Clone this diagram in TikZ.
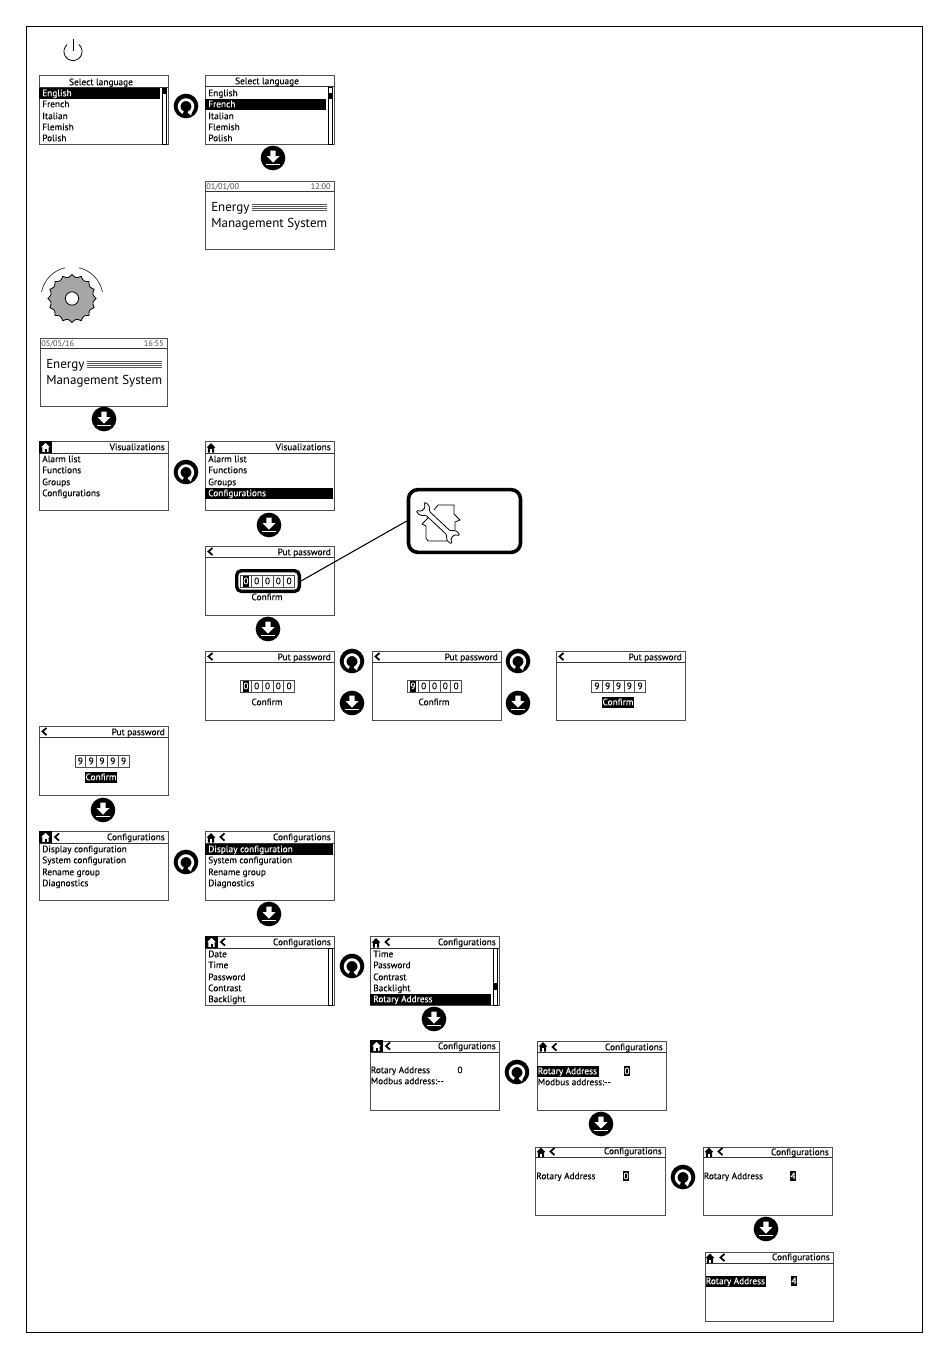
\documentclass[tikz,border=0pt]{standalone}
\usepackage{fontspec}
\setmainfont{PT Sans}
\newfontfamily\lcdb[FakeBold=0.35]{PT Sans}
\newcommand{\fsmall}{\lcdb\fontsize{7}{8}\selectfont}
\newcommand{\fthin}{\rmfamily\fontsize{6.2}{7}\selectfont}
\newcommand{\fbig}{\rmfamily\fontsize{9.75}{11}\selectfont}
\newcount\tcnt
\newcommand{\adv}{\global\advance\tcnt by 1\relax}
\tikzset{
  x=0.75pt,y=-0.75pt,
  framebox/.style={draw=black,line width=0.75pt},
  scrbox/.style={draw=black!70,line width=0.6pt,inner sep=0pt,anchor=north west},
  hline/.style={draw=black!80,line width=0.6pt},
  txt/.style={inner sep=0pt,font=\fsmall,text=black},
  inv/.style={txt,text=white},
  disc/.style={circle,fill=black,minimum size=18.5pt,inner sep=0pt},
  ring/.style={rectangle,rounded corners=3.5pt,draw=black,line width=2.5pt,inner sep=0pt,fill=none},
  callout/.style={rectangle,rounded corners=7pt,draw=black,line width=2.7pt,inner sep=0pt,fill=white,minimum width=84pt,minimum height=47pt},
  leader/.style={draw=black,line width=0.8pt},
}
% name x y w h
\newcommand{\scrn}[5]{\node[scrbox,minimum width=#4*0.75pt,minimum height=#5*0.75pt] (#1) at (#2,#3) {};}
% x1 x2 y
\newcommand{\hdr}[3]{\draw[hline] (#1,#3) -- (#2,#3);}
% left text: x y text
\newcommand{\tleft}[3]{\adv\node[txt,anchor=base west] (t\the\tcnt) at (#1,#2+3.2) {#3};}
\newcommand{\tleftw}[3]{\adv\node[inv,anchor=base west] (t\the\tcnt) at (#1,#2+3.2) {#3};}
\newcommand{\tright}[3]{\adv\node[txt,anchor=base east] (t\the\tcnt) at (#1,#2+3.2) {#3};}
\newcommand{\tmid}[3]{\adv\node[txt,anchor=base] (t\the\tcnt) at (#1,#2+3.2) {#3};}
\newcommand{\tmidw}[3]{\adv\node[inv,anchor=base] (t\the\tcnt) at (#1,#2+3.2) {#3};}
% highlight bar x1 y1 x2 y2
\newcommand{\hlbar}[4]{\fill[black] (#1,#2) rectangle (#3,#4);}
% scrollbar x ytop ybot knobtop knobbot
\newcommand{\sbar}[5]{\draw[black,line width=0.5pt] (#1,#2) rectangle (#1+4,#3); \fill[black] (#1,#4) rectangle (#1+4,#5);}
% rotate icon
\newcommand{\roticon}[3]{\node[disc] (#1) at (#2,#3) {};
  \begin{scope}[shift={(#2,#3)}]
    \draw[white,line width=2pt] plot[domain=-65:245,samples=40] ({6.8*cos(\x)},{-6.8*sin(\x)+0.5});
    \fill[black] (-2,0) -- (2,0) -- (1.6,8) -- (-1.6,8) -- cycle;
    \fill[white] (1.5,6.5) -- (6.5,4) -- (5,9.5) -- cycle;
  \end{scope}}
% down icon
\newcommand{\dwnicon}[3]{\node[disc] (#1) at (#2,#3) {};
  \begin{scope}[shift={(#2,#3)}]
    \fill[white] (-2.6,-7.5) -- (2.6,-7.5) -- (2.6,-2) -- (6.5,-2) -- (0,4.5) -- (-6.5,-2) -- (-2.6,-2) -- cycle;
    \fill[white] (-7,5.8) rectangle (7,7.4);
  \end{scope}}
% home icons x y (centre of icon)
\newcommand{\homeb}[2]{\begin{scope}[shift={(#1,#2)}]
    \fill[black] (0,-5) -- (-4.4,-0.5) -- (-3.2,-0.5) -- (-3.2,4.5) -- (3.2,4.5) -- (3.2,-0.5) -- (4.4,-0.5) -- cycle;
    \fill[white] (-1,1.2) rectangle (1,4.5);
  \end{scope}}
\newcommand{\homew}[2]{\fill[black] (#1-6.5,#2-6) rectangle (#1+6.5,#2+6);
  \begin{scope}[shift={(#1,#2)}]
    \fill[white] (0,-4) -- (-4.4,0.2) -- (-3.2,0.2) -- (-3.2,4.8) -- (3.2,4.8) -- (3.2,0.2) -- (4.4,0.2) -- cycle;
    \fill[black] (-1,1.5) rectangle (1,4.8);
  \end{scope}}
\newcommand{\chev}[2]{\draw[black,line width=1.3pt] (#1+2.5,#2-3.6) -- (#1-1.5,#2) -- (#1+2.5,#2+3.6);}
% digit row: x y d1 d2 d3 d4 d5
\newcommand{\digs}[7]{\draw[black!70,line width=0.5pt] (#1,#2) rectangle (#1+54,#2+12);
  \foreach \kk in {1,2,3,4}{\draw[black!70,line width=0.5pt] (#1+\kk*10.8,#2) -- (#1+\kk*10.8,#2+12);}
  \tmid{#1+5.4}{#2+6}{#3}\tmid{#1+16.2}{#2+6}{#4}\tmid{#1+27}{#2+6}{#5}\tmid{#1+37.8}{#2+6}{#6}\tmid{#1+48.6}{#2+6}{#7}}
\newcommand{\digsb}[7]{\draw[black!70,line width=0.5pt] (#1,#2) rectangle (#1+54,#2+12);
  \foreach \kk in {1,2,3,4}{\draw[black!70,line width=0.5pt] (#1+\kk*10.8,#2) -- (#1+\kk*10.8,#2+12);}
  \fill[black] (#1+2.3,#2+0.5) rectangle (#1+8.5,#2+11.5);
  \tmidw{#1+5.4}{#2+6}{#3}\tmid{#1+16.2}{#2+6}{#4}\tmid{#1+27}{#2+6}{#5}\tmid{#1+37.8}{#2+6}{#6}\tmid{#1+48.6}{#2+6}{#7}}
% energy home screen: name x y w date time
\newcommand{\ems}[6]{\scrn{#1}{#2}{#3}{#4}{68}
  \hdr{#2}{#2+#4}{#3+10.5}
  \adv\node[txt,font=\fthin,text=black!70,anchor=base west] (t\the\tcnt) at (#2+1,#3+8.2) {#5};
  \adv\node[txt,font=\fthin,text=black!70,anchor=base east] (t\the\tcnt) at (#2+#4-3,#3+8.2) {#6};
  \adv\node[txt,font=\fbig,anchor=base west] (t\the\tcnt) at (#2+6,#3+30.5) {Energy};
  \adv\node[txt,font=\fbig,anchor=base west] (t\the\tcnt) at (#2+6,#3+46) {Management System};
  \foreach \q in {23,25.2,27.4,29.6}{\draw[black!65,line width=0.4pt] (#2+46.5,#3+\q) -- (#2+122,#3+\q);}}
\begin{document}
\begin{tikzpicture}
\useasboundingbox (0,0) rectangle (950,1360);
\fill[white] (0,0) rectangle (950,1360);
\draw[framebox] (26,26) rectangle (922,1332);

% power symbol
\draw[black,line width=0.6pt] plot[domain=-230:50,samples=40] ({73+9*cos(\x)},{51.5-9*sin(\x)});
\draw[black,line width=0.6pt] (73,39) -- (73,51);

% Language screens
\scrn{la}{39}{75}{129}{69}\hdr{39}{168}{87}
\tmid{101}{82}{Select language}
\hlbar{39}{88}{160}{99}
\tleftw{42}{93}{English}\tleft{42}{104}{French}\tleft{42}{116}{Italian}\tleft{42}{127}{Flemish}\tleft{42}{138}{Polish}
\sbar{162}{88}{144}{88}{93.5}
\roticon{ra}{186}{106}

\scrn{lb}{205}{75}{129}{69}\hdr{205}{334}{86.5}
\tmid{267}{81}{Select language}
\hlbar{205}{99}{326}{110}
\tleft{208}{93}{English}\tleftw{208}{104}{French}\tleft{208}{116}{Italian}\tleft{208}{127}{Flemish}\tleft{208}{138}{Polish}
\sbar{328}{87}{144}{93}{99}
\dwnicon{da}{273}{158}

\ems{ea}{205}{181}{129}{01/01/00}{12:00}

% knob
\fill[black!35] plot[domain=0:360,samples=257] ({72+24*cos(\x)-2.6*abs(sin(8*\x))*cos(\x)},{298.5-24*sin(\x)+2.6*abs(sin(8*\x))*sin(\x)}) -- cycle;
\draw[black,line width=0.6pt] plot[domain=0:360,samples=257] ({72+24*cos(\x)-2.6*abs(sin(8*\x))*cos(\x)},{298.5-24*sin(\x)+2.6*abs(sin(8*\x))*sin(\x)}) -- cycle;
\draw[black,fill=white,line width=0.6pt] (72,298.5) circle[radius=5pt];
\draw[black,line width=0.4pt] plot[domain=103:169,samples=24] ({72+31*cos(\x)},{298-31*sin(\x)});
\draw[black,line width=0.4pt] plot[domain=11:77,samples=24] ({72+31*cos(\x)},{298-31*sin(\x)});

\ems{eb}{40}{338}{127}{05/05/16}{16:55}
\dwnicon{db}{104}{419}

% Visualizations
\scrn{va}{39}{441}{129}{69}\hdr{39}{168}{453}
\homew{45.5}{447}
\tright{165}{447}{Visualizations}
\tleft{42}{459}{Alarm list}\tleft{42}{470}{Functions}\tleft{42}{482}{Groups}\tleft{42}{493}{Configurations}
\roticon{rb}{186}{472}

\scrn{vb}{205}{441}{129}{69}\hdr{205}{334}{453}
\homeb{211}{448}
\tright{331}{447}{Visualizations}
\hlbar{205}{488}{333}{499}
\tleft{208}{459}{Alarm list}\tleft{208}{470}{Functions}\tleft{208}{482}{Groups}\tleftw{208}{493}{Configurations}
\dwnicon{dc}{269}{525}

% Password
\scrn{pa}{205}{546}{129}{69}\hdr{205}{334}{557}
\chev{210}{551.5}\tright{331}{552}{Put password}
\digsb{240.5}{575}{0}{0}{0}{0}{0}
\tmid{267}{597}{Confirm}
\node[ring,minimum width=47pt,minimum height=15.5pt] (pr) at (268,581) {};
\node[callout] (co) at (464.5,521) {};
\draw[leader] (pr.east) -- (co.west);
% house and wrench icon
\begin{scope}[black,line width=0.6pt,line join=round]
  \draw (426,526) -- (426,538) -- (428,541) -- (447,541);
  \draw (426,526) -- (422,524) -- (430,516);
  \draw (434,510) -- (438,505) -- (442,505) -- (454,505) -- (454,514);
  \draw (454,514) -- (460,520) -- (455,522) -- (455,530);
\end{scope}
\begin{scope}[shift={(438,523)},rotate=-43,line width=0.6pt,line join=round]
  \draw[black,fill=white,rounded corners=1pt] (-14.5,-2.6) -- (14.5,-2.6) -- (17,-6) -- (21.5,-7) -- (24.5,-5.5) -- (20,-2.8) -- (20,2.8) -- (24.5,5.5) -- (21.5,7) -- (17,6) -- (14.5,2.6) -- (-14.5,2.6) -- (-17,6) -- (-21.5,7) -- (-24.5,5.5) -- (-20,2.8) -- (-20,-2.8) -- (-24.5,-5.5) -- (-21.5,-7) -- (-17,-6) -- cycle;
\end{scope}
\dwnicon{dd}{268}{629}

\scrn{pb}{205}{651}{129}{69}\hdr{205}{334}{662}
\chev{210}{656.5}\tright{331}{657}{Put password}
\digsb{240.5}{680}{0}{0}{0}{0}{0}
\tmid{267}{702}{Confirm}
\roticon{rc}{352}{661}\dwnicon{de}{352}{703}

\scrn{pc}{372}{651}{129}{69}\hdr{372}{501}{662}
\chev{377}{656.5}\tright{498}{657}{Put password}
\digsb{407.5}{680}{9}{0}{0}{0}{0}
\tmid{434}{702}{Confirm}
\roticon{rd}{518}{661}\dwnicon{df}{518}{703}

\scrn{pd}{556}{651}{129}{69}\hdr{556}{685}{662}
\chev{561}{656.5}\tright{682}{657}{Put password}
\digs{591.5}{680}{9}{9}{9}{9}{9}
\hlbar{602}{697}{634}{708}\tmidw{618}{702}{Confirm}

\scrn{pe}{39}{726}{129}{69}\hdr{39}{168}{737}
\chev{44}{731.5}\tright{165}{732}{Put password}
\digs{75}{755}{9}{9}{9}{9}{9}
\hlbar{85}{772}{117}{783}\tmidw{101}{777}{Confirm}
\dwnicon{dg}{103}{810}

% Configurations
\scrn{ca}{39}{831}{129}{69}\hdr{39}{168}{843}
\homew{45.5}{837}\chev{56.5}{837}
\tright{165}{837}{Configurations}
\tleft{42}{849}{Display configuration}\tleft{42}{860}{System configuration}\tleft{42}{872}{Rename group}\tleft{42}{883}{Diagnostics}
\roticon{re}{186}{862}

\scrn{cb}{205}{831}{129}{69}\hdr{205}{334}{843}
\homeb{211}{838}\chev{222}{837}
\tright{331}{837}{Configurations}
\hlbar{205}{844}{333}{855}
\tleftw{208}{849}{Display configuration}\tleft{208}{860}{System configuration}\tleft{208}{872}{Rename group}\tleft{208}{883}{Diagnostics}
\dwnicon{dh}{269}{914}

\scrn{cc}{205}{936}{129}{69}\hdr{205}{334}{948}
\homew{211.5}{942}\chev{222.5}{942}
\tright{331}{942}{Configurations}
\tleft{208}{954}{Date}\tleft{208}{965}{Time}\tleft{208}{977}{Password}\tleft{208}{988}{Contrast}\tleft{208}{999}{Backlight}
\sbar{328}{948}{1005}{948}{948}
\roticon{rf}{352}{966}

\scrn{cd}{370}{936}{129}{69}\hdr{370}{499}{948}
\homeb{376}{943}\chev{387}{942}
\tright{496}{942}{Configurations}
\hlbar{370}{993.5}{491}{1005}
\tleft{373}{954}{Time}\tleft{373}{965}{Password}\tleft{373}{977}{Contrast}\tleft{373}{988}{Backlight}\tleftw{373}{999}{Rotary Address}
\sbar{493}{948}{1005}{983}{990}
\dwnicon{di}{434}{1019}

\scrn{ce}{370}{1041}{129}{69}\hdr{370}{499}{1052}
\homew{376.5}{1046}\chev{387.5}{1046}
\tright{496}{1046}{Configurations}
\tleft{370.5}{1070}{Rotary Address}\tmid{460}{1070}{0}\tleft{370.5}{1081}{Modbus address:-{}-}
\roticon{rg}{517}{1072}

\scrn{cf}{537}{1041}{129}{69}\hdr{537}{666}{1052}
\homeb{543}{1047}\chev{554}{1047}
\tright{663}{1047}{Configurations}
\hlbar{537}{1065.5}{599}{1076.5}
\tleftw{537.5}{1071}{Rotary Address}\hlbar{624}{1066}{630}{1076}\tmidw{627}{1071}{0}\tleft{537.5}{1082}{Modbus address:-{}-}
\dwnicon{dj}{601}{1124}

\scrn{cg}{535}{1147}{130}{68}\hdr{535}{665}{1157.5}
\homeb{541}{1152.5}\chev{552}{1151.5}
\tright{662}{1151}{Configurations}
\tleft{536}{1176}{Rotary Address}\hlbar{623}{1171}{629}{1181}\tmidw{626}{1176}{0}
\roticon{rh}{683}{1177}

\scrn{ch}{703}{1147}{129}{68}\hdr{703}{832}{1157.5}
\homeb{709}{1152.5}\chev{720}{1151.5}
\tright{829}{1152}{Configurations}
\tleft{703.5}{1176}{Rotary Address}\hlbar{790}{1171}{796}{1181}\tmidw{793}{1176}{4}
\dwnicon{dk}{766}{1229}

\scrn{ci}{705}{1252}{128}{69}\hdr{705}{833}{1263}
\homeb{710}{1258.5}\chev{722}{1257.5}
\tright{830}{1257}{Configurations}
\hlbar{705.5}{1276}{766}{1287}
\tleftw{705.5}{1281}{Rotary Address}\hlbar{791}{1276}{797}{1286}\tmidw{794}{1281}{4}
\end{tikzpicture}
\end{document}
